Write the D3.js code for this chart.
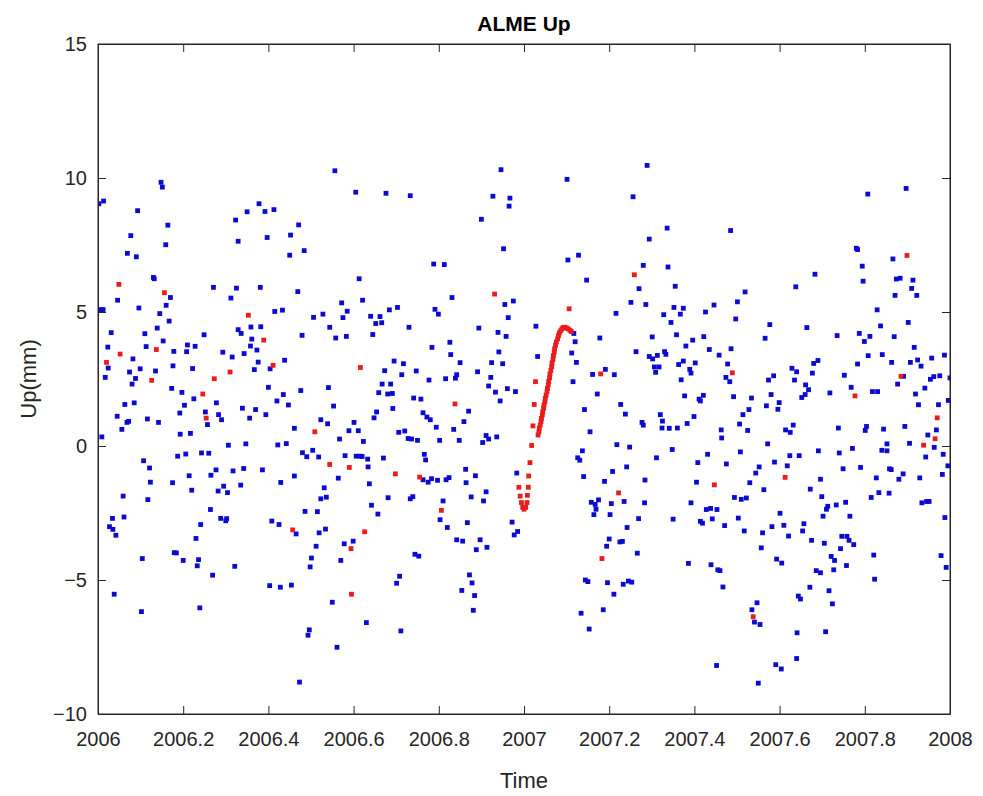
<!DOCTYPE html>
<html>
<head>
<meta charset="utf-8">
<script src="https://cdn.jsdelivr.net/npm/d3@7"></script>
<style>
  body { margin: 0; background: #fff; }
  svg { display: block; font-family: Arial, "Liberation Sans", Helvetica, sans-serif; }
</style>
</head>
<body>
<svg id="chart" width="983" height="796"></svg>
<script>
// Axis ticks
const xTicks = [2006, 2006.2, 2006.4, 2006.6, 2006.8, 2007, 2007.2, 2007.4, 2007.6, 2007.8, 2008];
const yTicks = [-10, -5, 0, 5, 10, 15];

// Daily vertical residuals (time in decimal years, Up in mm)
const bluePts = [
  [2006.148,9.84],[2006.151,9.66],[2006.002,9.04],[2006.013,9.14],[2006.093,8.78],[2006.164,8.24],[2006.077,7.85],[2006.159,7.51],[2006.069,7.19],[2006.090,7.06],
  [2006.130,6.29],[2006.132,6.24],[2006.170,5.54],[2006.046,5.44],[2006.006,5.09],[2006.012,5.09],[2006.096,5.15],[2006.160,5.25],[2006.145,4.94],[2006.167,4.66],
  [2006.139,4.40],[2006.031,4.23],[2006.110,4.19],[2006.153,3.92],[2006.023,3.69],[2006.113,3.71],[2006.178,3.53],[2006.024,2.91],[2006.082,3.25],[2006.176,2.99],
  [2006.074,2.76],[2006.099,2.88],[2006.135,2.80],[2006.017,2.56],[2006.088,2.52],[2006.080,2.31],[2006.173,2.15],[2006.063,1.55],[2006.085,1.61],[2006.045,1.11],
  [2006.068,0.88],[2006.072,0.92],[2006.056,0.62],[2006.116,1.01],[2006.142,0.88],[2006.009,0.34],[2006.107,-0.55],[2006.121,-0.82],[2006.123,-1.35],[2006.175,-1.37],
  [2006.059,-1.87],[2006.117,-2.00],[2006.034,-2.70],[2006.061,-2.65],[2006.027,-3.01],[2006.035,-3.11],[2006.042,-3.33],[2006.179,-3.98],[2006.104,-4.20],[2006.038,-5.53],
  [2006.102,-6.18],
  [2006.350,8.74],[2006.323,8.43],[2006.329,7.64],[2006.271,5.92],[2006.325,5.89],[2006.312,5.52],[2006.359,4.44],[2006.329,4.34],[2006.336,4.20],[2006.249,4.15],
  [2006.210,3.77],[2006.228,3.72],[2006.361,3.99],[2006.358,3.73],[2006.208,3.52],[2006.293,3.50],[2006.343,3.45],[2006.315,3.32],[2006.222,2.89],[2006.197,2.00],
  [2006.225,1.76],[2006.278,1.61],[2006.203,1.52],[2006.192,1.23],[2006.252,1.27],[2006.339,1.41],[2006.283,1.17],[2006.290,0.98],[2006.356,1.04],[2006.257,0.80],
  [2006.193,0.44],[2006.217,0.47],[2006.306,0.03],[2006.347,0.08],[2006.187,-0.38],[2006.206,-0.30],[2006.243,-0.26],[2006.260,-0.27],[2006.277,-0.89],[2006.317,-0.93],
  [2006.342,-0.84],[2006.265,-1.09],[2006.214,-1.11],[2006.220,-1.65],[2006.282,-1.68],[2006.304,-1.74],[2006.295,-1.50],[2006.335,-1.46],[2006.264,-2.37],[2006.288,-2.70],
  [2006.300,-2.79],[2006.302,-2.71],[2006.241,-2.93],[2006.230,-3.45],[2006.184,-3.99],[2006.200,-4.27],[2006.236,-4.24],[2006.233,-4.47],[2006.321,-4.49],[2006.269,-4.82],
  [2006.239,-6.04],
  [2006.378,9.04],[2006.392,8.75],[2006.413,8.82],[2006.471,8.25],[2006.397,7.78],[2006.452,7.87],[2006.484,7.29],[2006.450,7.12],[2006.381,5.92],[2006.469,5.76],
  [2006.415,5.02],[2006.433,5.07],[2006.506,4.80],[2006.528,4.92],[2006.544,4.43],[2006.382,4.45],[2006.479,4.13],[2006.373,3.58],[2006.376,3.13],[2006.367,2.85],
  [2006.404,2.88],[2006.438,3.20],[2006.400,2.19],[2006.476,2.07],[2006.541,2.18],[2006.435,1.92],[2006.420,1.68],[2006.447,1.53],[2006.370,1.36],[2006.394,1.17],
  [2006.461,0.66],[2006.523,0.98],[2006.539,0.83],[2006.422,0.04],[2006.442,0.09],[2006.480,-0.25],[2006.490,-0.40],[2006.504,-0.16],[2006.518,-0.41],[2006.386,-0.89],
  [2006.461,-1.12],[2006.429,-1.36],[2006.531,-1.56],[2006.523,-1.97],[2006.536,-1.91],[2006.486,-2.44],[2006.515,-2.45],[2006.408,-2.80],[2006.425,-2.93],[2006.465,-3.28],
  [2006.519,-3.24],[2006.534,-3.10],[2006.512,-3.74],[2006.501,-4.18],[2006.498,-4.51],[2006.403,-5.21],[2006.428,-5.27],[2006.454,-5.19],[2006.496,-6.86],[2006.493,-7.06],
  [2006.473,-8.81],
  [2006.556,10.27],[2006.605,9.47],[2006.676,9.43],[2006.613,6.24],[2006.621,5.44],[2006.572,5.34],[2006.585,5.03],[2006.575,4.79],[2006.684,5.08],[2006.703,5.17],
  [2006.640,4.84],[2006.662,4.83],[2006.652,4.57],[2006.666,4.60],[2006.558,4.03],[2006.583,4.09],[2006.645,4.16],[2006.695,3.17],[2006.717,3.07],[2006.673,2.81],
  [2006.713,2.66],[2006.667,2.31],[2006.687,2.31],[2006.659,1.99],[2006.680,1.94],[2006.691,1.96],[2006.553,1.49],[2006.692,1.40],[2006.654,1.27],[2006.648,1.05],
  [2006.601,0.88],[2006.589,0.57],[2006.611,0.57],[2006.706,0.51],[2006.720,0.56],[2006.567,0.26],[2006.623,0.17],[2006.580,-0.36],[2006.606,-0.38],[2006.615,-0.38],
  [2006.620,-0.39],[2006.633,-0.49],[2006.670,-0.45],[2006.634,-0.78],[2006.564,-1.20],[2006.637,-1.41],[2006.681,-1.93],[2006.642,-2.21],[2006.657,-2.54],[2006.599,-3.55],
  [2006.578,-3.65],[2006.570,-4.27],[2006.708,-4.86],[2006.701,-5.12],[2006.550,-5.83],[2006.630,-6.59],[2006.711,-6.90],[2006.561,-7.51],
  [2006.733,9.34],[2006.900,8.46],[2006.788,6.79],[2006.813,6.77],[2006.831,5.54],[2006.791,5.10],[2006.799,4.92],[2006.730,4.43],[2006.894,4.40],[2006.826,3.87],
  [2006.784,3.68],[2006.828,3.41],[2006.850,3.11],[2006.747,2.80],[2006.891,2.77],[2006.842,2.66],[2006.839,2.53],[2006.816,2.51],[2006.777,2.46],[2006.741,1.79],
  [2006.758,1.75],[2006.870,1.30],[2006.763,1.24],[2006.772,1.08],[2006.780,0.98],[2006.859,0.91],[2006.794,0.70],[2006.835,0.62],[2006.728,0.28],[2006.736,0.26],
  [2006.750,0.21],[2006.802,0.21],[2006.848,0.21],[2006.903,0.13],[2006.766,-0.31],[2006.769,-0.52],[2006.863,-0.87],[2006.886,-1.11],[2006.763,-1.26],[2006.775,-1.35],
  [2006.783,-1.22],[2006.797,-1.28],[2006.817,-1.26],[2006.824,-1.18],[2006.864,-1.37],[2006.733,-1.97],[2006.739,-1.89],[2006.876,-1.90],[2006.905,-2.05],[2006.810,-2.05],
  [2006.803,-2.75],[2006.820,-3.04],[2006.867,-2.86],[2006.842,-3.50],[2006.856,-3.55],[2006.897,-3.50],[2006.888,-3.87],[2006.744,-4.04],[2006.753,-4.11],[2006.872,-4.81],
  [2006.878,-5.11],[2006.854,-5.39],[2006.884,-5.58],[2006.881,-6.13],
  [2006.946,10.31],[2006.927,9.32],[2006.967,9.25],[2006.965,8.95],[2006.952,7.36],[2006.955,5.28],[2006.975,5.41],[2006.963,4.79],[2006.939,4.24],[2006.958,4.09],
  [2007.028,4.47],[2007.032,3.34],[2006.941,3.51],[2006.924,3.11],[2006.950,3.07],[2006.922,2.56],[2006.917,2.24],[2006.933,2.01],[2006.961,2.14],[2006.980,2.03],
  [2006.944,1.68],[2006.911,0.39],[2006.917,0.26],[2006.936,0.34],[2006.983,-1.01],[2006.911,-1.71],[2006.972,-2.84],[2006.985,-3.19],[2006.977,-3.32],[2006.913,-3.78],
  [2007.101,9.95],[2007.256,9.30],[2007.103,6.94],[2007.128,7.12],[2007.147,6.19],[2007.270,5.87],[2007.251,5.36],[2007.216,4.95],[2007.117,4.20],[2007.120,3.89],
  [2007.178,4.03],[2007.263,3.52],[2007.112,3.47],[2007.123,3.12],[2007.191,2.86],[2007.161,2.67],[2007.212,2.66],[2007.115,2.40],[2007.172,1.94],[2007.227,1.55],
  [2007.238,1.19],[2007.142,1.36],[2007.155,0.53],[2007.218,0.05],[2007.248,-0.04],[2007.137,-0.18],[2007.126,-0.44],[2007.131,-0.53],[2007.208,-0.95],[2007.241,-0.78],
  [2007.140,-1.14],[2007.189,-1.32],[2007.158,-2.10],[2007.167,-2.18],[2007.175,-2.01],[2007.169,-2.36],[2007.164,-2.56],[2007.205,-2.15],[2007.235,-2.07],[2007.202,-2.56],
  [2007.269,-2.71],[2007.242,-3.04],[2007.200,-3.47],[2007.194,-3.74],[2007.225,-3.58],[2007.231,-3.56],[2007.266,-4.00],[2007.144,-5.00],[2007.150,-5.06],[2007.196,-5.10],
  [2007.233,-5.16],[2007.245,-5.04],[2007.253,-5.08],[2007.211,-5.53],[2007.134,-6.24],[2007.186,-6.11],[2007.153,-6.83],
  [2007.289,10.47],[2007.336,8.13],[2007.294,7.72],[2007.280,6.74],[2007.338,6.68],[2007.355,5.96],[2007.286,5.28],[2007.352,5.17],[2007.374,5.14],[2007.367,4.92],
  [2007.446,5.26],[2007.426,5.00],[2007.328,4.90],[2007.345,4.61],[2007.301,4.07],[2007.358,4.15],[2007.422,4.08],[2007.396,3.95],[2007.380,3.73],[2007.435,3.60],
  [2007.458,3.39],[2007.294,3.34],[2007.302,3.25],[2007.313,3.38],[2007.330,3.52],[2007.333,3.42],[2007.306,2.95],[2007.309,2.75],[2007.317,2.95],[2007.363,3.04],
  [2007.374,3.17],[2007.389,2.86],[2007.392,2.72],[2007.402,3.10],[2007.369,2.47],[2007.377,1.87],[2007.421,1.89],[2007.411,1.75],[2007.414,1.68],[2007.277,0.88],
  [2007.280,0.78],[2007.320,1.17],[2007.325,0.93],[2007.399,1.10],[2007.324,0.67],[2007.341,0.66],[2007.360,0.67],[2007.383,0.84],[2007.348,-0.13],[2007.311,-0.44],
  [2007.431,-0.31],[2007.408,-0.62],[2007.284,-1.27],[2007.405,-1.35],[2007.283,-2.12],[2007.392,-2.12],[2007.428,-2.37],[2007.438,-2.33],[2007.453,-2.37],[2007.350,-2.73],
  [2007.414,-2.81],[2007.419,-2.88],[2007.442,-2.72],[2007.386,-4.38],[2007.439,-4.43],[2007.455,-4.62],[2007.452,-8.19],
  [2007.485,8.04],[2007.638,5.94],[2007.519,5.75],[2007.501,5.38],[2007.497,4.74],[2007.577,4.53],[2007.566,4.02],[2007.486,3.63],[2007.478,3.06],[2007.474,2.56],
  [2007.483,2.40],[2007.574,2.46],[2007.586,2.62],[2007.629,2.90],[2007.640,2.77],[2007.635,2.46],[2007.492,1.84],[2007.534,1.79],[2007.580,1.92],[2007.599,1.62],
  [2007.596,1.37],[2007.569,1.50],[2007.528,1.36],[2007.514,1.17],[2007.506,0.82],[2007.525,0.58],[2007.632,0.78],[2007.614,0.60],[2007.625,0.51],[2007.463,0.60],
  [2007.464,0.30],[2007.572,0.08],[2007.508,-0.22],[2007.624,-0.36],[2007.475,-0.67],[2007.588,-0.60],[2007.618,-0.74],[2007.552,-0.78],[2007.544,-1.01],[2007.530,-1.37],
  [2007.563,-1.63],[2007.494,-1.92],[2007.510,-1.99],[2007.522,-1.94],[2007.503,-2.69],[2007.471,-2.97],[2007.517,-3.17],[2007.601,-2.51],[2007.582,-3.01],[2007.610,-2.96],
  [2007.621,-3.36],[2007.560,-3.24],[2007.557,-3.80],[2007.593,-4.22],[2007.605,-4.37],[2007.460,-4.65],[2007.467,-5.26],[2007.644,-5.60],[2007.547,-5.85],[2007.535,-6.11],
  [2007.541,-6.57],[2007.554,-6.66],[2007.591,-8.16],[2007.604,-8.32],[2007.640,-7.93],[2007.550,-8.85],[2007.641,-6.97],
  [2007.807,9.40],[2007.780,7.38],[2007.783,7.33],[2007.794,6.71],[2007.683,6.41],[2007.796,6.15],[2007.664,4.42],[2007.735,4.12],[2007.787,4.20],[2007.799,3.90],
  [2007.812,4.09],[2007.808,3.37],[2007.690,3.19],[2007.680,3.08],[2007.677,2.72],[2007.783,3.06],[2007.752,2.64],[2007.661,2.28],[2007.668,2.10],[2007.718,1.98],
  [2007.652,1.81],[2007.660,1.92],[2007.768,2.19],[2007.818,2.03],[2007.738,0.67],[2007.804,0.73],[2007.801,0.58],[2007.691,-0.18],[2007.740,-0.26],[2007.771,-0.09],
  [2007.646,-0.36],[2007.749,-0.85],[2007.790,-0.80],[2007.696,-1.24],[2007.672,-1.61],[2007.699,-1.89],[2007.815,-1.92],[2007.713,-2.25],[2007.710,-2.36],[2007.733,-2.20],
  [2007.755,-2.10],[2007.702,-2.62],[2007.765,-2.62],[2007.657,-2.90],[2007.654,-3.17],[2007.675,-3.52],[2007.705,-3.63],[2007.746,-3.37],[2007.758,-3.37],[2007.763,-3.52],
  [2007.774,-3.68],[2007.743,-3.83],[2007.721,-4.12],[2007.729,-4.27],[2007.757,-4.46],[2007.821,-4.07],[2007.727,-4.62],[2007.686,-4.65],[2007.696,-4.73],[2007.823,-4.97],
  [2007.671,-5.27],[2007.716,-5.40],[2007.649,-5.71],[2007.724,-5.89],[2007.708,-6.93],
  [2007.897,9.61],[2007.866,6.98],[2007.874,6.23],[2007.883,6.26],[2007.913,6.19],[2007.910,5.88],[2007.871,5.62],[2007.922,5.62],[2007.829,5.08],[2007.837,4.48],
  [2007.902,4.61],[2007.869,4.08],[2007.916,3.68],[2007.841,3.41],[2007.863,3.12],[2007.907,3.12],[2007.924,3.21],[2007.932,2.98],[2007.957,3.28],[2007.987,3.39],
  [2007.891,2.60],[2007.877,2.31],[2007.954,2.49],[2007.962,2.59],[2007.976,2.62],[2008.000,2.54],[2007.830,2.03],[2007.941,2.16],[2007.919,1.94],[2007.926,1.54],
  [2007.973,1.54],[2007.996,1.70],[2007.844,0.63],[2007.894,0.73],[2007.968,0.60],[2007.948,0.41],[2007.852,0.08],[2007.840,-0.16],[2007.852,-0.18],[2007.905,0.10],
  [2007.963,-0.05],[2007.984,-0.31],[2007.943,-0.41],[2007.995,-0.74],[2007.858,-0.85],[2007.862,-0.88],[2007.827,-1.19],[2007.890,-1.04],[2007.880,-1.24],[2007.929,-1.19],
  [2007.982,-1.06],[2007.833,-1.74],[2007.857,-1.76],[2007.934,-2.12],[2007.945,-2.07],[2007.951,-2.07],[2007.988,-2.67],[2007.979,-4.09],[2007.991,-4.53]
];

// Flagged daily values
const redPts = [
  [2006.049,6.03],[2006.156,5.72],[2006.137,3.60],[2006.052,3.43],[2006.020,3.12],[2006.126,2.45],
  [2006.353,4.88],[2006.273,2.51],[2006.310,2.76],[2006.246,1.94],[2006.254,1.04],
  [2006.389,3.95],[2006.411,3.01],[2006.509,0.53],[2006.544,-0.69],[2006.457,-3.13],
  [2006.616,2.93],[2006.590,-0.80],[2006.698,-1.04],[2006.626,-3.20],[2006.594,-3.83],[2006.595,-5.53],
  [2006.838,1.57],[2006.755,-1.16],[2006.806,-2.40],[2006.931,5.67],
  [2007.259,6.39],[2007.106,5.12],[2007.180,2.69],[2007.222,-1.75],[2007.183,-4.20],
  [2007.447,-1.45],[2007.489,2.73],[2007.613,-1.17],[2007.538,-6.37],[2007.777,1.87],
  [2007.899,7.11],[2007.885,2.60],[2007.970,1.05],[2007.965,0.27],[2007.938,0.03]
];

// Transient around the start of 2007: dip then rise
const redDip = [
  [2006.988,-1.54],[2006.991,-1.87],[2006.994,-2.11],[2006.997,-2.29],[2007.000,-2.36],[2007.004,-2.29],[2007.007,-2.11],
  [2007.008,-1.84],[2007.010,-1.54],[2007.011,-1.12],[2007.014,-0.62],[2007.018,0.02],[2007.021,0.75],[2007.024,1.55],[2007.027,2.40]
];
const redRise = [
  [2007.033,0.41],[2007.035,0.53],[2007.036,0.66],[2007.038,0.78],[2007.040,0.91],[2007.041,1.03],[2007.043,1.16],[2007.044,1.28],
  [2007.046,1.41],[2007.047,1.53],[2007.049,1.65],[2007.050,1.78],[2007.052,1.90],[2007.054,2.03],[2007.055,2.15],[2007.057,2.28],
  [2007.058,2.41],[2007.060,2.55],[2007.061,2.69],[2007.063,2.82],[2007.065,2.96],[2007.066,3.10],[2007.068,3.23],[2007.069,3.37],
  [2007.071,3.51],[2007.072,3.63],[2007.074,3.76],[2007.076,3.88],[2007.079,4.00],[2007.081,4.12],[2007.083,4.22],[2007.086,4.30],
  [2007.089,4.37],[2007.092,4.42],[2007.096,4.43],[2007.100,4.40],[2007.104,4.37],[2007.108,4.32],[2007.111,4.27]
];

const svg = d3.select("#chart");
const W = 983, H = 796;
const plot = { left: 98, right: 950, top: 44, bottom: 714 };

const x = d3.scaleLinear().domain([2006, 2008]).range([plot.left, plot.right]);
const y = d3.scaleLinear().domain([-10, 15]).range([plot.bottom, plot.top]);

svg.append("rect").attr("width", W).attr("height", H).attr("fill", "#fff");

const axisColor = "#262626";
const fmtX = d => String(+d.toFixed(1));

// Clip markers to the axes box
svg.append("defs").append("clipPath").attr("id", "plotClip")
  .append("rect").attr("x", plot.left).attr("y", plot.top)
  .attr("width", plot.right - plot.left).attr("height", plot.bottom - plot.top);

const marks = svg.append("g").attr("clip-path", "url(#plotClip)");
const S = 4.8;

function drawSquares(data, color) {
  marks.append("g").selectAll("rect").data(data).join("rect")
    .attr("x", d => x(d[0]) - S / 2)
    .attr("y", d => y(d[1]) - S / 2)
    .attr("width", S).attr("height", S)
    .attr("fill", color);
}
drawSquares(bluePts, "#0a0ad2");
drawSquares(redPts, "#ea1c1c");
drawSquares(redDip, "#ea1c1c");
drawSquares(redRise, "#ea1c1c");

// Axes: ticks point inward on all four sides
function styleAxis(g) {
  g.selectAll("path, line").attr("stroke", axisColor);
  g.selectAll("text").attr("fill", axisColor).style("font-size", "20px");
}

svg.append("g").attr("transform", `translate(0,${plot.bottom})`)
  .call(d3.axisBottom(x).tickValues(xTicks).tickFormat(fmtX).tickSizeInner(-8).tickSizeOuter(0).tickPadding(18))
  .call(styleAxis);
svg.append("g").attr("transform", `translate(0,${plot.top})`)
  .call(d3.axisTop(x).tickValues(xTicks).tickFormat("").tickSizeInner(-8).tickSizeOuter(0))
  .call(styleAxis);
svg.append("g").attr("transform", `translate(${plot.left},0)`)
  .call(d3.axisLeft(y).tickValues(yTicks).tickSizeInner(-8).tickSizeOuter(0).tickPadding(11))
  .call(styleAxis);
svg.append("g").attr("transform", `translate(${plot.right},0)`)
  .call(d3.axisRight(y).tickValues(yTicks).tickFormat("").tickSizeInner(-8).tickSizeOuter(0))
  .call(styleAxis);

svg.selectAll(".domain").attr("stroke", axisColor);

svg.append("rect")
  .attr("x", plot.left).attr("y", plot.top)
  .attr("width", plot.right - plot.left).attr("height", plot.bottom - plot.top)
  .attr("fill", "none").attr("stroke", axisColor).attr("stroke-width", 1);

// Title and axis labels
svg.append("text").attr("x", (plot.left + plot.right) / 2).attr("y", 31)
  .attr("text-anchor", "middle").attr("fill", "#000")
  .style("font-size", "21px").style("font-weight", "bold").text("ALME Up");

svg.append("text").attr("x", (plot.left + plot.right) / 2).attr("y", 788)
  .attr("text-anchor", "middle").attr("fill", axisColor)
  .style("font-size", "22px").text("Time");

svg.append("text").attr("transform", `translate(36,${(plot.top + plot.bottom) / 2}) rotate(-90)`)
  .attr("text-anchor", "middle").attr("fill", axisColor)
  .style("font-size", "22px").text("Up(mm)");
</script>
</body>
</html>
